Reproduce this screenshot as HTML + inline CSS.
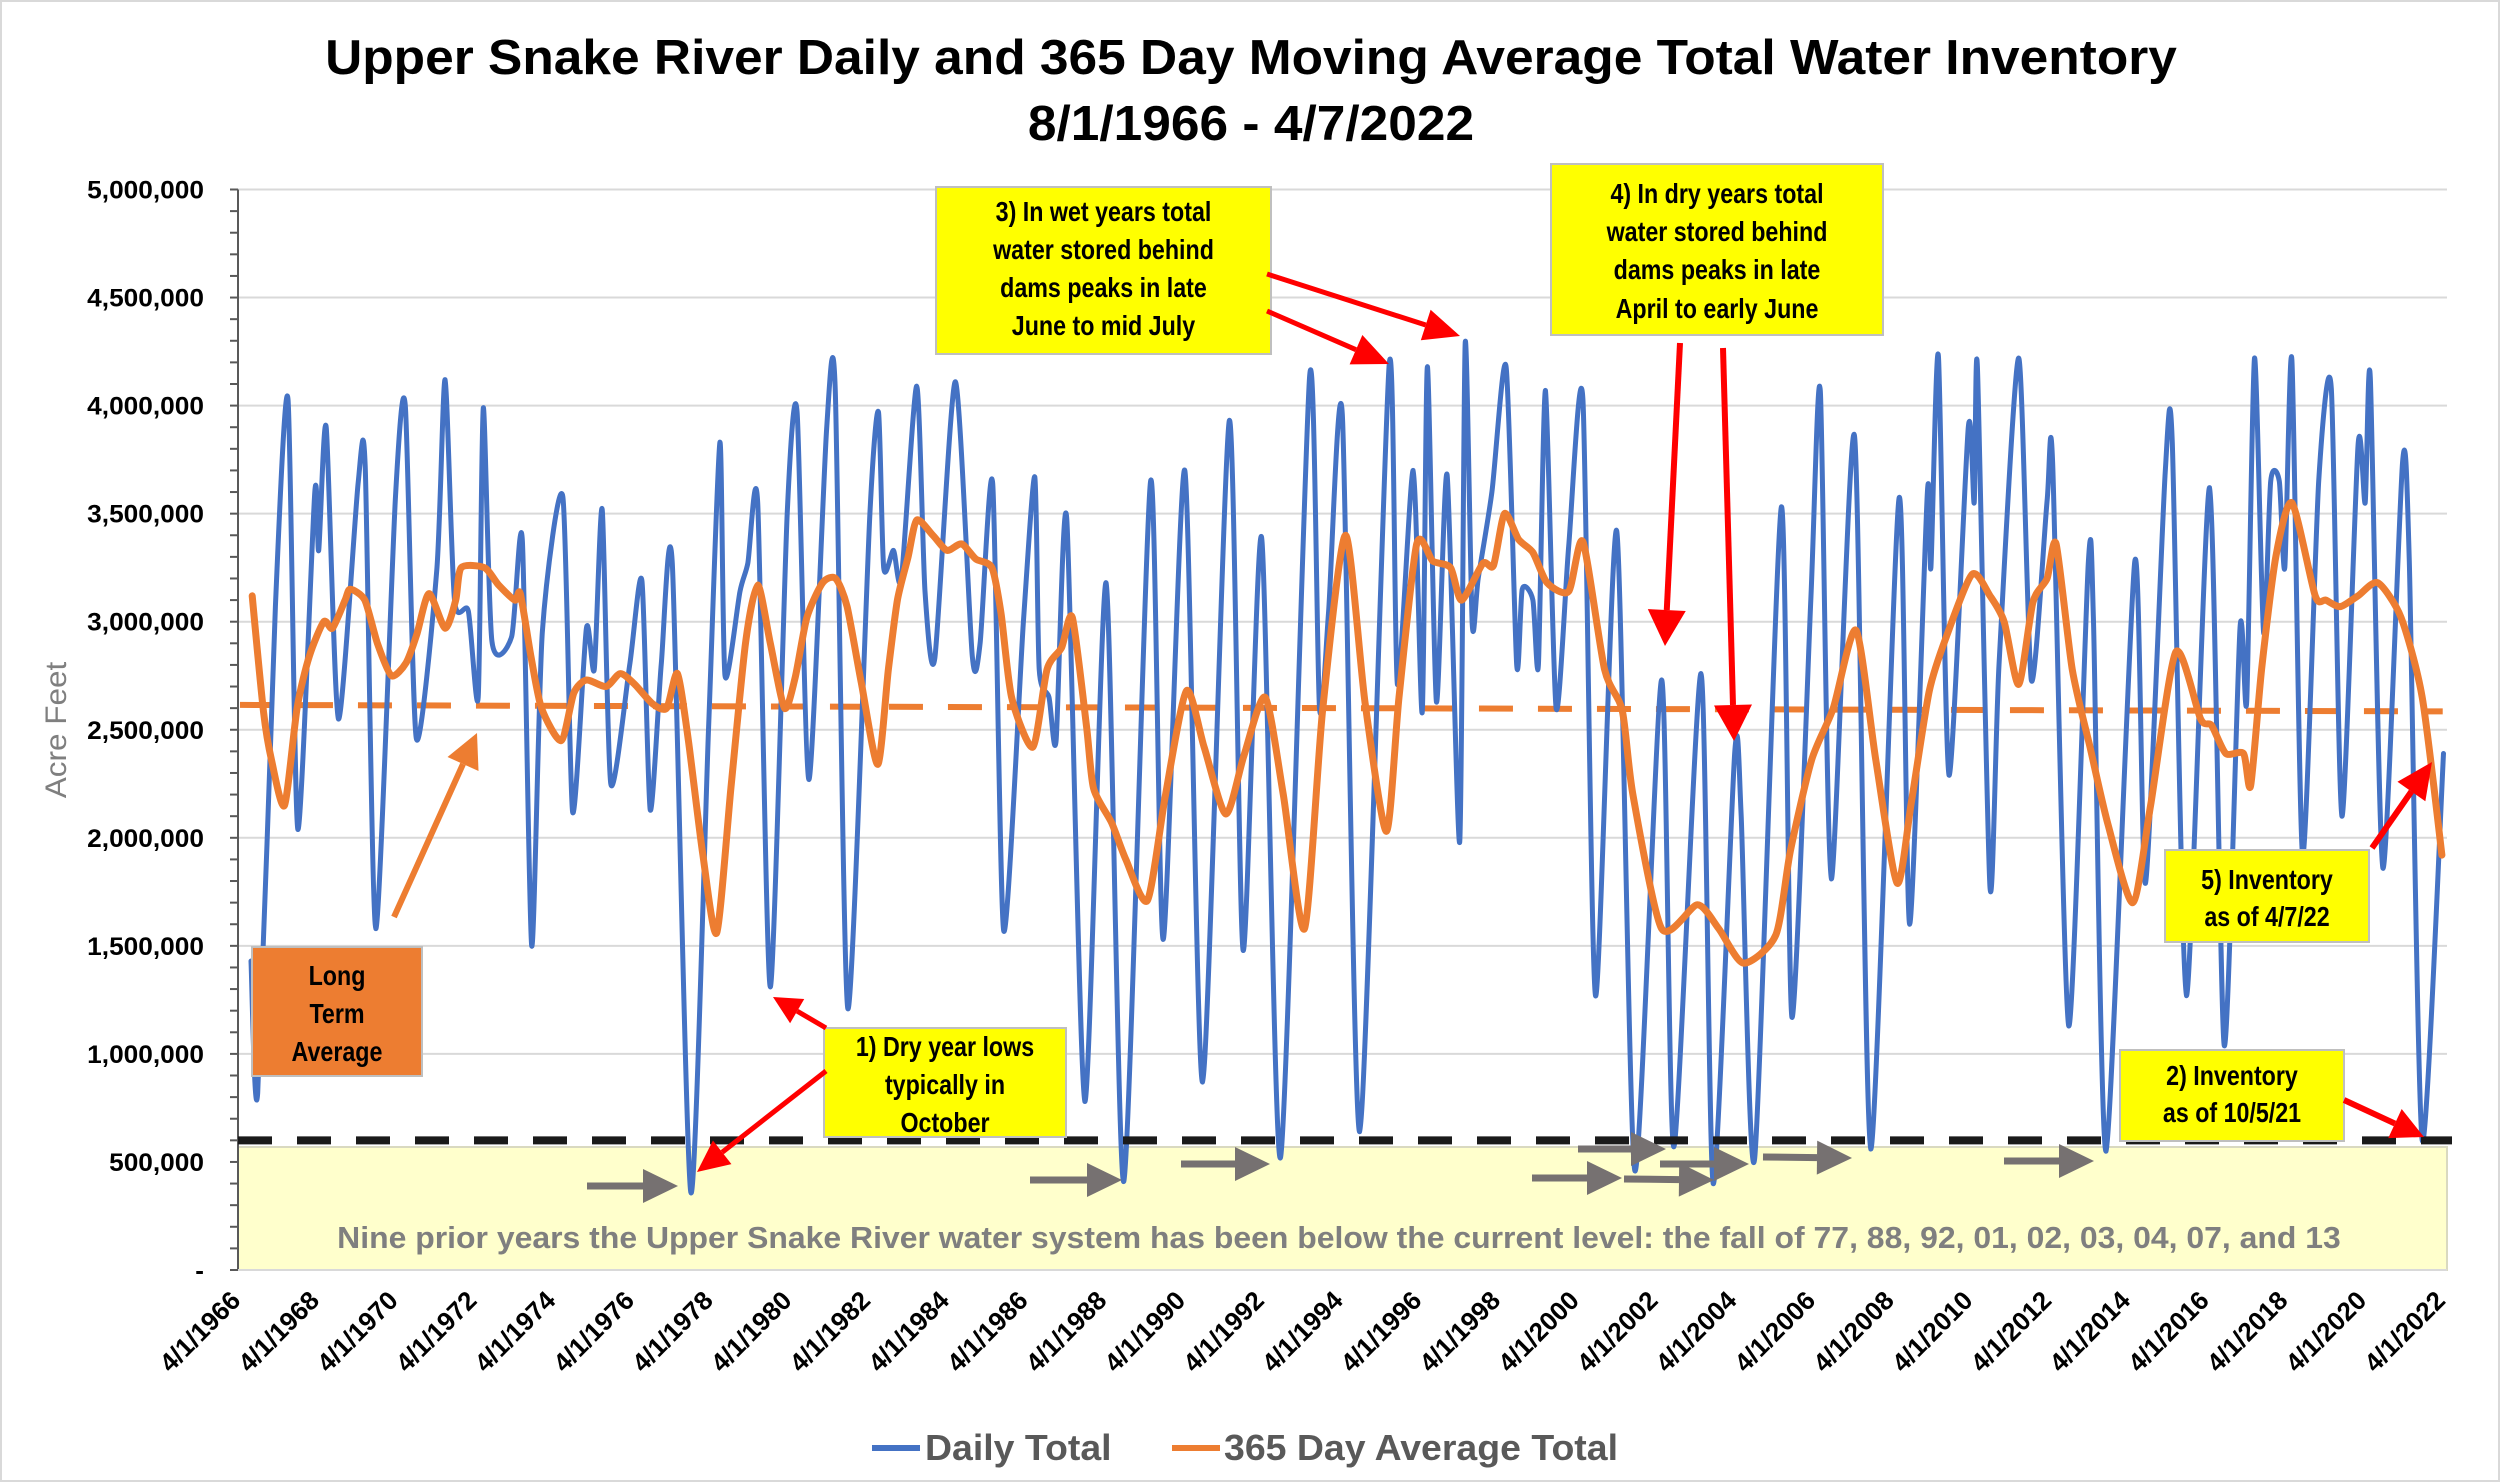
<!DOCTYPE html>
<html><head><meta charset="utf-8"><style>
html,body{margin:0;padding:0;background:#fff;}
svg{display:block;font-family:"Liberation Sans",sans-serif;}
</style></head><body>
<svg id="chart" width="2500" height="1482" viewBox="0 0 2500 1482" xmlns="http://www.w3.org/2000/svg">
<rect x="1" y="1" width="2498" height="1480" fill="#fff" stroke="#d9d9d9" stroke-width="2"/>
<text class="cal" data-k="1.05" x="1251" y="74" text-anchor="middle" font-size="49" font-weight="bold" fill="#000">Upper Snake River Daily and 365 Day Moving Average Total Water Inventory</text>
<text class="cal" data-k="1.05" x="1251" y="140" text-anchor="middle" font-size="49" font-weight="bold" fill="#000">8/1/1966 - 4/7/2022</text>
<g id="grid"></g>
<rect x="238" y="1147" width="2209" height="123" fill="#ffffcc" stroke="#d9d9c0" stroke-width="2"/>
<text class="cal" data-k="1.03" x="1339" y="1248" text-anchor="middle" font-size="31" font-weight="bold" fill="#7f7f7f">Nine prior years the Upper Snake River water system has been below the current level:  the fall of 77, 88, 92, 01, 02, 03, 04, 07, and 13</text>
<g id="axes"></g>
<g id="series"></g>
<text class="cal" data-k="1.05" x="0" y="0" transform="translate(66,730) rotate(-90)" text-anchor="middle" font-size="30" fill="#7f7f7f">Acre Feet</text>
<g id="annot"></g>
<g>
<line x1="872" y1="1448" x2="920" y2="1448" stroke="#4472c4" stroke-width="6"/>
<text class="cal" data-k="1.04" x="925" y="1460" font-size="36" font-weight="bold" fill="#595959">Daily Total</text>
<line x1="1172" y1="1448" x2="1220" y2="1448" stroke="#ed7d31" stroke-width="6"/>
<text class="cal" data-k="1.04" x="1224" y="1460" font-size="36" font-weight="bold" fill="#595959">365 Day Average Total</text>
</g>
</svg>
<script>
// ---- chart data ----
const blueYears = [1966.58,1966.75,1967.2,1967.52,1967.77,1968.2,1968.3,1968.49,1968.8,1969.3,1969.48,1969.75,1970.25,1970.5,1970.78,1971.3,1971.51,1971.75,1972.1,1972.35,1972.48,1972.7,1973.2,1973.47,1973.71,1973.98,1974.5,1974.75,1975.1,1975.3,1975.5,1975.72,1976.2,1976.51,1976.72,1977.0,1977.28,1977.75,1978.2,1978.49,1978.62,1979.0,1979.2,1979.45,1979.77,1980.2,1980.45,1980.75,1981.2,1981.42,1981.74,1982.3,1982.52,1982.65,1982.9,1983.1,1983.49,1983.7,1983.95,1984.47,1984.9,1985.1,1985.42,1985.7,1986.2,1986.49,1986.6,1986.85,1987.03,1987.3,1987.76,1988.3,1988.75,1989.43,1989.75,1990.3,1990.75,1991.43,1991.78,1992.25,1992.73,1993.47,1993.72,1993.95,1994.3,1994.74,1995.49,1995.7,1996.1,1996.33,1996.46,1996.69,1996.96,1997.28,1997.42,1997.6,1997.75,1998.1,1998.46,1998.73,1998.87,1999.14,1999.28,1999.46,1999.73,2000.05,2000.41,2000.73,2001.27,2001.73,2002.41,2002.72,2003.41,2003.72,2004.27,2004.43,2004.77,2005.45,2005.72,2006.2,2006.44,2006.72,2007.31,2007.72,2008.44,2008.71,2009.16,2009.25,2009.44,2009.71,2010.2,2010.35,2010.43,2010.75,2010.98,2011.48,2011.8,2012.2,2012.34,2012.75,2013.25,2013.38,2013.7,2014.43,2014.7,2015.2,2015.38,2015.74,2016.33,2016.7,2017.1,2017.27,2017.47,2017.7,2017.88,2018.1,2018.24,2018.42,2018.69,2019.1,2019.42,2019.69,2020.1,2020.28,2020.41,2020.73,2021.23,2021.4,2021.73,2022.27];
const blueValues = [1.43,0.82,3.07,4.03,2.04,3.6,3.33,3.9,2.55,3.64,3.72,1.58,3.58,4.0,2.46,3.24,4.12,3.1,3.05,2.65,3.99,2.91,2.93,3.38,1.5,2.95,3.58,2.12,2.97,2.78,3.52,2.25,2.8,3.19,2.13,2.8,3.27,0.36,2.5,3.83,2.75,3.14,3.27,3.55,1.31,3.5,3.97,2.27,3.89,4.08,1.21,3.5,3.97,3.25,3.33,3.2,4.09,3.14,2.83,4.11,2.84,2.9,3.64,1.57,3.0,3.67,2.78,2.65,2.45,3.48,0.78,3.18,0.41,3.65,1.53,3.7,0.87,3.93,1.48,3.39,0.52,4.14,2.6,3.04,3.96,0.64,4.19,2.71,3.7,2.58,4.18,2.63,3.68,1.98,4.29,2.99,3.2,3.6,4.18,2.8,3.15,3.1,2.8,4.07,2.6,3.35,4.03,1.27,3.42,0.46,2.73,0.57,2.76,0.4,2.4,2.11,0.51,3.53,1.17,3.1,4.07,1.81,3.86,0.56,3.57,1.6,3.6,3.25,4.23,2.29,3.9,3.55,4.18,1.77,2.8,4.22,2.73,3.56,3.74,1.13,3.28,3.0,0.55,3.28,1.79,3.69,3.84,1.27,3.62,1.04,2.97,2.63,4.22,2.95,3.65,3.65,3.25,4.21,1.92,3.65,4.08,2.1,3.82,3.55,4.13,1.86,3.74,3.28,0.6,2.39];
const avgYears = [1966.61,1966.9,1967.1,1967.43,1967.75,1968.06,1968.43,1968.65,1968.97,1969.1,1969.47,1969.79,1970.15,1970.52,1970.79,1971.1,1971.51,1971.78,1971.92,1972.51,1972.87,1973.28,1973.42,1973.69,1973.96,1974.46,1974.78,1975.1,1975.6,1975.96,1976.33,1976.78,1977.14,1977.41,1977.69,1978.05,1978.41,1978.77,1979.14,1979.45,1979.77,1980.13,1980.4,1980.7,1981.1,1981.43,1981.72,1982.08,1982.5,1982.77,1983.0,1983.27,1983.49,1983.9,1984.26,1984.63,1984.99,1985.4,1985.63,1985.9,1986.44,1986.8,1987.17,1987.44,1987.8,1987.98,1988.44,1988.8,1989.35,1989.8,1990.34,1990.79,1991.34,1991.8,1992.34,1992.8,1993.34,1993.8,1994.38,1994.88,1995.42,1995.74,1996.19,1996.6,1997.05,1997.33,1997.87,1998.14,1998.42,1998.78,1999.14,1999.5,2000.05,2000.41,2000.96,2001.41,2001.68,2002.41,2003.32,2003.86,2004.49,2005.31,2005.68,2006.22,2006.77,2007.35,2007.85,2008.39,2008.75,2009.21,2009.66,2010.3,2010.75,2011.11,2011.48,2011.84,2012.2,2012.43,2012.84,2013.29,2013.75,2014.38,2014.83,2015.47,2016.1,2016.38,2016.74,2017.19,2017.37,2017.65,2018.01,2018.42,2019.01,2019.28,2019.65,2020.1,2020.6,2021.19,2021.73,2022.23];
const avgValues = [3.12,2.58,2.36,2.15,2.6,2.84,3.0,2.97,3.1,3.15,3.1,2.9,2.75,2.81,2.94,3.13,2.97,3.1,3.25,3.25,3.17,3.1,3.13,2.84,2.6,2.45,2.67,2.73,2.7,2.76,2.71,2.62,2.6,2.76,2.45,1.93,1.56,2.23,2.9,3.17,2.9,2.6,2.74,3.02,3.18,3.2,3.07,2.72,2.34,2.78,3.1,3.3,3.47,3.4,3.33,3.36,3.29,3.25,3.04,2.65,2.42,2.78,2.88,3.02,2.52,2.23,2.07,1.9,1.71,2.19,2.68,2.42,2.11,2.38,2.65,2.2,1.58,2.59,3.4,2.62,2.03,2.65,3.36,3.28,3.25,3.1,3.27,3.26,3.5,3.38,3.32,3.18,3.14,3.37,2.78,2.59,2.2,1.58,1.69,1.58,1.42,1.55,1.94,2.36,2.6,2.96,2.36,1.79,2.16,2.68,2.94,3.22,3.12,3.0,2.71,3.09,3.2,3.36,2.78,2.42,2.06,1.7,2.15,2.86,2.55,2.52,2.39,2.39,2.24,2.78,3.3,3.55,3.12,3.1,3.07,3.12,3.18,3.02,2.65,1.92];
const longTermYears = [1966.3, 2022.25];
const longTermValues = [2.615, 2.585];
const currentLevelValues = [0.6, 0.6];
const yTickValues = [0,0.5,1,1.5,2,2.5,3,3.5,4,4.5,5];
const yTickLabels = ["-","500,000","1,000,000","1,500,000","2,000,000","2,500,000","3,000,000","3,500,000","4,000,000","4,500,000","5,000,000"];
const xTickYears = [1966,1968,1970,1972,1974,1976,1978,1980,1982,1984,1986,1988,1990,1992,1994,1996,1998,2000,2002,2004,2006,2008,2010,2012,2014,2016,2018,2020,2022];

// ---- axis functions ----
const X0 = 238, X1 = 2447, Y0 = 1270, PXM = 216.1;
function xs(yr){ return X0 + (yr - 1966.25) * 39.37; }
function ys(v){ return Y0 - v * PXM; }
const NS = "http://www.w3.org/2000/svg";
function mk(tag, attrs, parent){ const e = document.createElementNS(NS, tag); for (const k in attrs) e.setAttribute(k, attrs[k]); parent.appendChild(e); return e; }
function smoothPath(xsArr, ysArr){
  let d = "M" + xsArr[0].toFixed(1) + "," + ysArr[0].toFixed(1);
  for (let i = 0; i < xsArr.length - 1; i++){
    const p0x = xsArr[Math.max(0,i-1)], p0y = ysArr[Math.max(0,i-1)];
    const p1x = xsArr[i], p1y = ysArr[i], p2x = xsArr[i+1], p2y = ysArr[i+1];
    const p3x = xsArr[Math.min(xsArr.length-1,i+2)], p3y = ysArr[Math.min(xsArr.length-1,i+2)];
    const t = 0.12;
    const c1x = p1x + (p2x - p0x) * t, c1y = p1y + (p2y - p0y) * t;
    const c2x = p2x - (p3x - p1x) * t, c2y = p2y - (p3y - p1y) * t;
    d += " C" + c1x.toFixed(1) + "," + c1y.toFixed(1) + " " + c2x.toFixed(1) + "," + c2y.toFixed(1) + " " + p2x.toFixed(1) + "," + p2y.toFixed(1);
  }
  return d;
}

const grid = document.getElementById('grid');
const axes = document.getElementById('axes');
const series = document.getElementById('series');
const annot = document.getElementById('annot');

yTickValues.forEach((v, i) => {
  if (v > 0) {
    const gl = mk('line', {x1: X0, x2: X1, y1: ys(v), y2: ys(v), stroke: '#d9d9d9', 'stroke-width': 2}, grid);
    
    
  }
  const t = mk('text', {x: 204, y: ys(v) + 9, 'text-anchor': 'end', 'font-size': 25, 'font-weight': 'bold', fill: '#000', class: 'cal', 'data-k': '1.05'}, axes);
  t.textContent = yTickLabels[i];
  
  
});
for (let v = 0; v <= 5.0001; v += 0.1) {
  const tk = mk('line', {x1: X0 - 8, x2: X0, y1: ys(v), y2: ys(v), stroke: '#595959', 'stroke-width': 2}, axes);
  
  
}
const yAxis = mk('line', {x1: X0, x2: X0, y1: ys(5), y2: Y0, stroke: '#595959', 'stroke-width': 2}, axes);


const xAxis = mk('line', {x1: X0, x2: X1, y1: Y0, y2: Y0, stroke: '#d9d9d9', 'stroke-width': 2}, axes);


xTickYears.forEach(yr => {
  const x = xs(yr + 0.25) + 4, y = 1302;
  const t = mk('text', {x: 0, y: 0, transform: 'translate(' + x + ',' + y + ') rotate(-45)', 'text-anchor': 'end', 'font-size': 26, 'font-weight': 'bold', fill: '#000', class: 'cal', 'data-k': '1.0'}, axes);
  t.textContent = '4/1/' + yr;
  
  
});

// long-term average dashed
const lt = mk('line', {x1: xs(longTermYears[0]), y1: ys(longTermValues[0]), x2: xs(longTermYears[1]), y2: ys(longTermValues[1]), stroke: '#ed7d31', 'stroke-width': 6, 'stroke-dasharray': '34 25'}, series);



// daily total
const bx = blueYears.map(xs), by = blueValues.map(ys);
const bp = mk('path', {d: smoothPath(bx, by), fill: 'none', stroke: '#4472c4', 'stroke-width': 5, 'stroke-linejoin': 'round', 'stroke-linecap': 'round'}, series);



// current level dashed black
const cl = mk('line', {x1: X0, y1: ys(currentLevelValues[0]), x2: X1 + 5, y2: ys(currentLevelValues[1]), stroke: '#1a1a1a', 'stroke-width': 8, 'stroke-dasharray': '34 25'}, series);



// moving average
const ax = avgYears.map(xs), ay = avgValues.map(ys);
const ap = mk('path', {d: smoothPath(ax, ay), fill: 'none', stroke: '#ed7d31', 'stroke-width': 7, 'stroke-linejoin': 'round', 'stroke-linecap': 'round'}, series);



// ---- annotations ----
function arrow(x1, y1, x2, y2, color, w, hl, hw, name){
  const dx = x2 - x1, dy = y2 - y1, L = Math.hypot(dx, dy), ux = dx / L, uy = dy / L;
  const bx2 = x2 - ux * hl, by2 = y2 - uy * hl;
  const g = mk('g', {}, annot);
  
  
  mk('line', {x1: x1, y1: y1, x2: bx2, y2: by2, stroke: color, 'stroke-width': w}, g);
  mk('polygon', {points: x2 + ',' + y2 + ' ' + (bx2 - uy * hw) + ',' + (by2 + ux * hw) + ' ' + (bx2 + uy * hw) + ',' + (by2 - ux * hw), fill: color}, g);
}
function box(x, y, w, h, fill, lines, lineYs, fs, name){
  const g = mk('g', {}, annot);
  
  
  mk('rect', {x: x, y: y, width: w, height: h, fill: fill, stroke: '#bfbfbf', 'stroke-width': 2}, g);
  lines.forEach((s, i) => {
    const t = mk('text', {x: x + w / 2, y: lineYs[i], 'text-anchor': 'middle', 'font-size': fs, 'font-weight': 'bold', fill: '#000', class: 'cal', 'data-k': '0.83'}, g);
    t.textContent = s;
  });
}
box(252, 947, 170, 129, '#ed7d31', ['Long', 'Term', 'Average'], [985, 1023, 1061], 28, 'long-term-average-label');
arrow(394, 917, 477, 733, '#ed7d31', 6, 34, 17, 'long-term-average-arrow');

box(824, 1028, 242, 109, '#ffff00', ['1) Dry year lows', 'typically in', 'October'], [1056, 1094, 1132], 28, 'note-dry-year-lows');
arrow(826, 1071, 697, 1172, '#ff0000', 5, 32, 15, 'arrow-dry-low-1977');
arrow(826, 1028, 773, 997, '#ff0000', 5, 28, 14, 'arrow-dry-low-1979');

box(936, 187, 335, 167, '#ffff00', ['3) In wet years total', 'water stored behind', 'dams peaks in late', 'June to mid July'], [221, 259, 297, 335], 28, 'note-wet-years');
arrow(1267, 274, 1460, 336, '#ff0000', 5, 36, 16, 'arrow-wet-peak-1');
arrow(1267, 311, 1389, 364, '#ff0000', 5, 36, 16, 'arrow-wet-peak-2');

box(1551, 164, 332, 171, '#ffff00', ['4) In dry years total', 'water stored behind', 'dams peaks in late', 'April to early June'], [203, 241, 279, 318], 28, 'note-dry-years');
arrow(1680, 343, 1665, 646, '#ff0000', 6, 36, 19, 'arrow-dry-peak-1');
arrow(1723, 348, 1734, 741, '#ff0000', 6, 36, 19, 'arrow-dry-peak-2');

box(2165, 850, 204, 92, '#ffff00', ['5) Inventory', 'as of 4/7/22'], [889, 926], 28, 'note-inventory-april');
arrow(2372, 848, 2432, 762, '#ff0000', 6, 36, 17, 'arrow-inventory-april');

box(2120, 1050, 224, 91, '#ffff00', ['2) Inventory', 'as of 10/5/21'], [1085, 1122], 28, 'note-inventory-october');
arrow(2344, 1100, 2424, 1137, '#ff0000', 6, 32, 16, 'arrow-inventory-october');

[[587,1186,678,1186],[1030,1180,1122,1180],[1181,1164,1270,1164],[1532,1178,1622,1178],[1578,1149,1666,1149],[1624,1179,1714,1180],[1660,1164,1749,1164],[1763,1157,1852,1158],[2004,1161,2094,1161]].forEach((a,i) => {
  arrow(a[0], a[1], a[2], a[3], '#767171', 7, 35, 17, 'gray-arrow-' + (i + 1));
});

// adjust Liberation widths to approximate Calibri widths
document.querySelectorAll('text.cal').forEach(t => {
  try {
    const k = parseFloat(t.getAttribute('data-k') || '0.86');
    const w = t.getComputedTextLength();
    if (w > 0 && Math.abs(k - 1) > 0.001) { t.setAttribute('textLength', (w * k).toFixed(1)); t.setAttribute('lengthAdjust', 'spacingAndGlyphs'); }
  } catch (e) {}
});
</script>
</body></html>
